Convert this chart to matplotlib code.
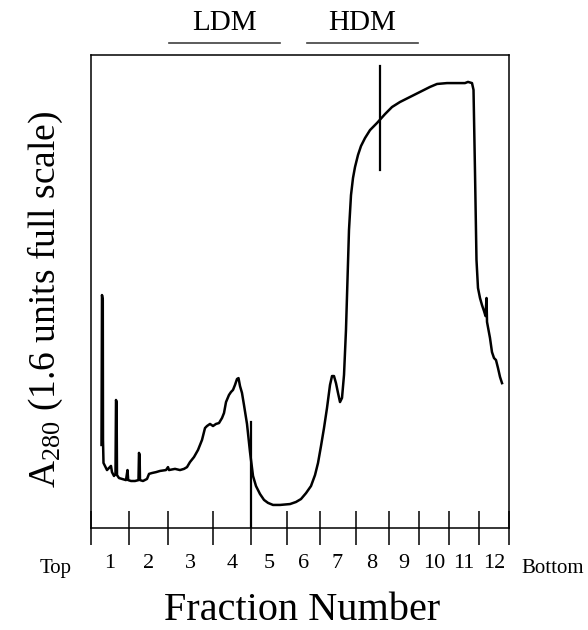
import matplotlib
matplotlib.use("Agg")
import matplotlib.pyplot as plt
import numpy as np

# Data: position along the gradient (% of run, top -> bottom) and A280 (units)
position = [
    2.51, 2.63, 2.82, 2.87, 2.99, 3.35, 3.83, 4.31, 4.78, 5.02, 5.50, 5.86,
    5.98, 6.12, 6.22, 6.70, 7.42, 8.37, 8.73, 8.90, 9.57, 10.53, 11.36, 11.48,
    11.63, 11.72, 12.44, 13.40, 13.88, 14.59, 15.55, 16.51, 17.94, 18.42, 18.66,
    20.10, 21.29, 22.25, 22.97, 23.68, 24.64, 25.60, 26.56, 27.27, 27.75, 28.47,
    29.19, 29.90, 30.62, 31.34, 31.82, 32.30, 33.01, 33.49, 33.97, 34.45, 34.93,
    35.29, 35.65, 36.12, 36.60, 37.32, 38.04, 38.76, 39.47, 40.43, 41.39, 42.34,
    43.54, 45.22, 47.61, 49.04, 50.24, 51.44, 52.63, 53.59, 54.31, 55.02, 55.74,
    56.46, 57.18, 57.66, 58.13, 58.61, 59.09, 59.57, 60.05, 60.53, 61.00, 61.36,
    61.72, 62.20, 62.68, 63.16, 63.88, 64.59, 65.55, 66.75, 68.42, 70.33, 72.01,
    73.92, 76.32, 78.71, 81.10, 82.78, 85.17, 87.56, 89.47, 90.19, 91.15, 91.51,
    91.87, 92.22, 92.58, 93.06, 93.54, 94.02, 94.38, 94.62, 94.74, 95.10, 95.45,
    95.93, 96.41, 96.89, 97.37, 97.85, 98.33,
]
a280 = [
    0.281, 0.788, 0.771, 0.298, 0.220, 0.210, 0.196, 0.203, 0.210, 0.189, 0.176, 0.183,
    0.433, 0.426, 0.179, 0.169, 0.166, 0.162, 0.196, 0.162, 0.159, 0.159, 0.162, 0.254,
    0.247, 0.162, 0.159, 0.166, 0.183, 0.186, 0.189, 0.193, 0.196, 0.206, 0.196,
    0.200, 0.196, 0.200, 0.206, 0.223, 0.240, 0.264, 0.298, 0.338, 0.345, 0.352,
    0.345, 0.352, 0.355, 0.372, 0.389, 0.426, 0.450, 0.460, 0.467, 0.484, 0.504,
    0.507, 0.480, 0.457, 0.416, 0.352, 0.257, 0.176, 0.142, 0.115, 0.095, 0.085,
    0.078, 0.078, 0.081, 0.088, 0.098, 0.118, 0.142, 0.179, 0.220, 0.277, 0.338,
    0.406, 0.484, 0.514, 0.514, 0.490, 0.457, 0.426, 0.440, 0.518, 0.670, 0.839,
    1.008, 1.126, 1.184, 1.221, 1.262, 1.292, 1.319, 1.346, 1.370, 1.400, 1.424,
    1.441, 1.458, 1.475, 1.492, 1.502, 1.505, 1.505, 1.505, 1.509, 1.505, 1.482,
    1.201, 0.907, 0.812, 0.778, 0.754, 0.734, 0.717, 0.778, 0.697, 0.670, 0.643,
    0.595, 0.575, 0.568, 0.541, 0.511, 0.490,
]

# fraction boundaries (% of run) and labels
boundaries = [0, 9.09, 18.42, 29.09, 38.23, 46.84, 54.67, 63.28, 71.24, 78.42, 85.60, 92.82, 100]
fraction_labels = [str(i) for i in range(1, 13)]

# marker pens drawn on the trace: (position, ymin, ymax)
markers = [(38.23, 0.0, 0.359), (69.14, 1.211, 1.563)]

# pooled regions
pools = {"LDM": (18.66, 45.22), "HDM": (51.67, 78.23)}
full_scale = 1.6

# Plotting
plt.rcParams.update({
    "font.family": ["Liberation Serif", "DejaVu Serif"],
    "mathtext.fontset": "custom",
    "mathtext.rm": "Liberation Serif",
    "mathtext.default": "regular",
})
fig = plt.figure(figsize=(5.88, 6.30), dpi=100)
ax = fig.add_axes([91 / 588, 1 - 528 / 630, 418 / 588, 473 / 630])

ax.plot(position, a280, color="black", lw=1.8, solid_joinstyle="round")
for x, y0, y1 in markers:
    ax.plot([x, x], [y0, y1], color="black", lw=1.6)

ax.set_xlim(0, 100)
ax.set_ylim(0, full_scale)
ax.set_yticks([])

mids = [(boundaries[i] + boundaries[i + 1]) / 2 for i in range(len(boundaries) - 1)]
ax.set_xticks(boundaries)
ax.set_xticklabels([])
ax.set_xticks(mids, minor=True)
ax.set_xticklabels(fraction_labels, minor=True, fontsize=16)
ax.tick_params(axis="x", which="major", direction="inout", length=24, width=1.1)
ax.tick_params(axis="x", which="minor", length=0, pad=19)
for s in ax.spines.values():
    s.set_linewidth(1.1)

# pooled fraction bars above the plot
for name, (x0, x1) in pools.items():
    ax.plot([x0, x1], [1.641, 1.641], color="0.25", lw=1.2, clip_on=False)
    ax.text((x0 + x1) / 2, 1.665, name, ha="center", va="bottom", fontsize=21)

fig.text(55.5 / 588, 1 - 573 / 630, "Top", ha="center", va="baseline", fontsize=15)
fig.text(553 / 588, 1 - 573 / 630, "Bottom", ha="center", va="baseline", fontsize=15)
fig.text(302 / 588, 1 - 620 / 630, "Fraction Number", ha="center", va="baseline", fontsize=29)
fig.text(45 / 588, 1 - 299 / 630, "A$_{280}$ (1.6 units full scale)", rotation=90,
         ha="center", va="center", fontsize=27)

plt.savefig("out.png", dpi=100)
